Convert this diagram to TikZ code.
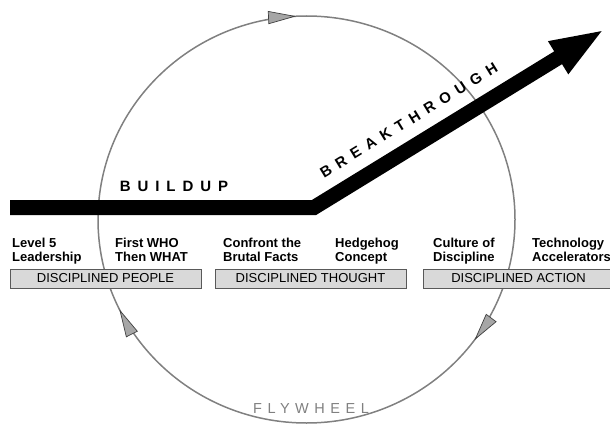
\documentclass[tikz,border=0pt]{standalone}
\usepackage{fontspec}
\setmainfont{Liberation Sans}
\newfontfamily\trackedwide[LetterSpace=46]{Liberation Sans}
\newfontfamily\trackednarrow[LetterSpace=38]{Liberation Sans}
\usetikzlibrary{arrows.meta,decorations.markings,positioning}

\begin{document}
\begin{tikzpicture}[x=1pt, y=1pt,
    wheel/.style={draw=black!50, line width=1.5pt},
    spin/.tip={Triangle[length=28pt, width=13pt, line width=0.7pt, color=black!75, fill=black!35]},
    bar/.style={line width=15pt, line join=miter, -{Triangle[length=55pt, width=34pt]}},
    stage/.style={font=\fontsize{13}{14}\selectfont\bfseries, align=left,
                  anchor=north west, inner sep=0pt},
    discipline/.style={draw=black!65, fill=black!15, line width=0.8pt,
                       minimum width=191pt, minimum height=19pt, inner sep=0pt,
                       font=\fontsize{13}{15}\selectfont},
    phase/.style={font=\fontsize{15}{17}\selectfont\trackedwide\bfseries, inner sep=0pt}]
    \useasboundingbox (0,0) rectangle (610,424);

    \coordinate (hub) at (306.5,204.5);
    \draw[wheel, postaction={decorate}, decoration={markings,
            mark=at position 0.100 with {\arrow{spin}},
            mark=at position 0.428 with {\arrow{spin}},
            mark=at position 0.742 with {\arrow{spin}}}]
        ([xshift=208.5pt]hub) arc[start angle=0, end angle=-360, x radius=208.5, y radius=203.5];
    \node[font=\fontsize{14.5}{16}\selectfont\trackednarrow, text=black!50,
          anchor=base, inner sep=0pt] (flywheel) at (311,11) {FLYWHEEL};

    \coordinate (start) at (10,216.5);
    \coordinate (turn) at (314,216.5);
    \coordinate (peak) at (605,395);
    \draw[bar] (start) -- (turn)
        -- node[phase, pos=0.37, sloped, above=12pt] (breakthrough) {BREAKTHROUGH} (peak);
    \node[phase, anchor=base] (buildup) at (174,232.3) {BUILDUP};

    \node[stage] (level5)   at (12,186)  {Level 5\\Leadership};
    \node[stage] (whowhat)  at (115,186) {First WHO\\Then WHAT};
    \node[stage] (facts)    at (223,186) {Confront the\\Brutal Facts};
    \node[stage] (hedgehog) at (335,186) {Hedgehog\\Concept};
    \node[stage] (culture)  at (433,186) {Culture of\\Discipline};
    \node[stage] (accel)    at (532,186) {Technology\\Accelerators};

    \node[discipline] (people)  at (105.5,145.5) {DISCIPLINED PEOPLE};
    \node[discipline] (thought) at (310.5,145.5) {DISCIPLINED THOUGHT};
    \node[discipline] (action)  at (518.5,145.5) {DISCIPLINED ACTION};
\end{tikzpicture}
\end{document}
